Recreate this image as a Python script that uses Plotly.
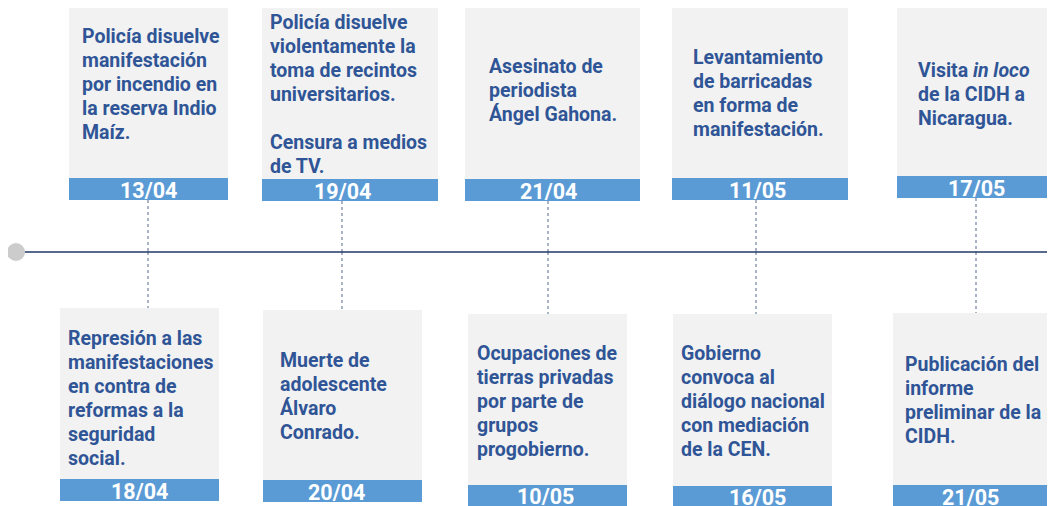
import plotly.graph_objects as go

# ---- data ----
dates = ["13/04", "18/04", "19/04", "20/04", "21/04", "10/05", "11/05", "16/05", "17/05", "21/05"]
sides = ["top", "bottom", "top", "bottom", "top", "bottom", "top", "bottom", "top", "bottom"]
texts = [
    ["Policía disuelve", "manifestación", "por incendio en", "la reserva Indio", "Maíz."],
    ["Represión a las", "manifestaciones", "en contra de", "reformas a la", "seguridad", "social."],
    ["Policía disuelve", "violentamente la", "toma de recintos", "universitarios.", "", "Censura a medios", "de TV."],
    ["Muerte de", "adolescente", "Álvaro", "Conrado."],
    ["Asesinato de", "periodista", "Ángel Gahona."],
    ["Ocupaciones de", "tierras privadas", "por parte de", "grupos", "progobierno."],
    ["Levantamiento", "de barricadas", "en forma de", "manifestación."],
    ["Gobierno", "convoca al", "diálogo nacional", "con mediación", "de la CEN."],
    ["Visita <i>in loco</i>", "de la CIDH a", "Nicaragua."],
    ["Publicación del", "informe", "preliminar de la", "CIDH."],
]

# ---- layout (pixel geometry of each card) ----
# box left, box right, box top, band top, band bottom, connector x, date x, text left, first-line centre
geom = [
    (69, 228, 6, 178, 200, 148, 148, 80, 36),
    (60, 219, 308, 479, 501, 148, 139, 66, 338),
    (262, 438, 8, 179, 201, 342, 342, 268, 22),
    (263, 422, 310, 480, 502, 342, 336, 278, 360),
    (465, 640, 8, 179, 201, 548, 548, 487, 66),
    (468, 627, 314, 485, 506, 548, 545, 475, 353),
    (672, 848, 6, 178, 200, 756, 757, 691, 57),
    (673, 832, 314, 486, 507, 756, 757, 679, 353),
    (897, 1060, 6, 176, 198, 976, 976, 916, 70),
    (893, 1052, 313, 485, 507, 976, 970, 903, 364),
]

W, H = 1055, 506
OFF = 8  # page body margin
LINE_Y = 252
GRAY = "#f2f2f2"
BLUE = "#5b9bd5"
TXT = "#2f5597"
NAVY = "#1f3864"
DOT = "#8f9bb3"
FONT = "Roboto"

shapes = []
annotations = []

for d, side, lines, g in zip(dates, sides, texts, geom):
    x0, x1, ytop, yb0, yb1, cx, dx, tx, ty = g
    shapes.append(dict(type="rect", x0=x0, x1=x1, y0=ytop, y1=yb0, fillcolor=GRAY,
                       line=dict(width=0), layer="below"))
    shapes.append(dict(type="rect", x0=x0, x1=x1, y0=yb0, y1=yb1, fillcolor=BLUE,
                       line=dict(width=0), layer="below"))
    if side == "top":
        shapes.append(dict(type="line", x0=cx, x1=cx, y0=yb1, y1=LINE_Y,
                           line=dict(color=DOT, width=1.5, dash="dot")))
    else:
        shapes.append(dict(type="line", x0=cx, x1=cx, y0=LINE_Y, y1=ytop,
                           line=dict(color=DOT, width=1.5, dash="dot")))
    annotations.append(dict(x=dx, y=(yb0 + yb1) / 2 + 1, text="<b>%s</b>" % d, showarrow=False,
                            xanchor="center", yanchor="middle",
                            font=dict(family=FONT, size=21.5, color="white")))
    for i, ln in enumerate(lines):
        if not ln:
            continue
        annotations.append(dict(x=tx, y=ty + i * 24, text="<b>%s</b>" % ln, showarrow=False,
                                xanchor="left", yanchor="middle",
                                font=dict(family=FONT, size=19.5, color=TXT)))

# main timeline
shapes.append(dict(type="line", x0=16, x1=W + OFF, y0=LINE_Y, y1=LINE_Y,
                   line=dict(color=NAVY, width=1.5)))
shapes.append(dict(type="circle", x0=7, x1=25, y0=LINE_Y - 9, y1=LINE_Y + 9,
                   fillcolor="#cccccc", line=dict(width=0)))

fig = go.Figure()
fig.add_trace(go.Scatter(x=[OFF, W + OFF], y=[OFF, H + OFF], mode="markers", marker=dict(opacity=0),
                         hoverinfo="skip", showlegend=False))
fig.update_layout(
    width=W, height=H,
    margin=dict(l=0, r=0, t=0, b=0),
    paper_bgcolor="white", plot_bgcolor="white",
    xaxis=dict(range=[OFF, W + OFF], visible=False, fixedrange=True),
    yaxis=dict(range=[H + OFF, OFF], visible=False, fixedrange=True),
    shapes=shapes, annotations=annotations, showlegend=False,
)
fig.write_html("out.html")
